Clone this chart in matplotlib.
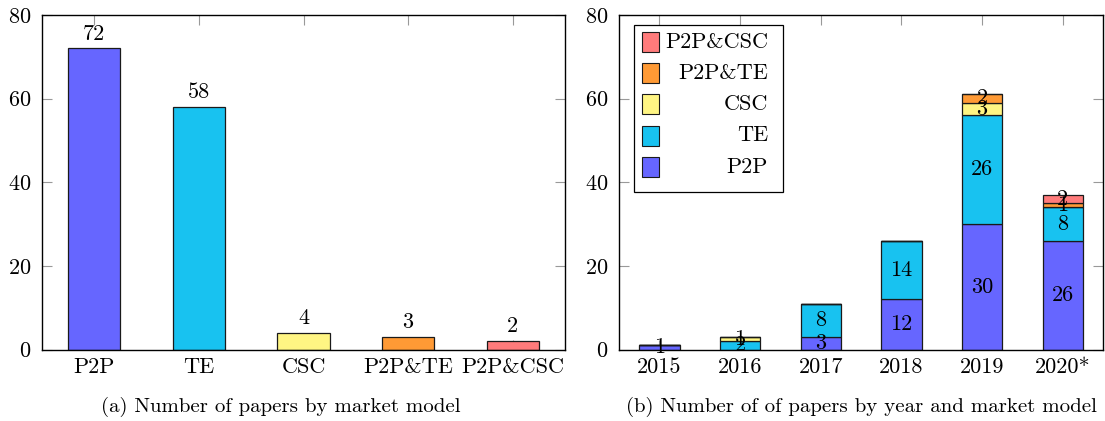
import numpy as np
from matplotlib import pyplot as plt
from matplotlib.patches import Rectangle

plt.rcParams['font.family'] = ['cmr10', 'DejaVu Serif']
plt.rcParams['axes.formatter.use_mathtext'] = True
plt.rcParams['mathtext.fontset'] = 'cm'

# data
models = ["P2P", "TE", "CSC", "P2P&TE", "P2P&CSC"]
model_counts = [72, 58, 4, 3, 2]
colors = ["#6666ff", "#18c2f0", "#fff583", "#ff9a35", "#ff7b7b"]

years = ["2015", "2016", "2017", "2018", "2019", "2020*"]
by_year = {
    "P2P":     [1, 0, 3, 12, 30, 26],
    "TE":      [0, 2, 8, 14, 26, 8],
    "CSC":     [0, 1, 0, 0, 3, 0],
    "P2P&TE":  [0, 0, 0, 0, 2, 1],
    "P2P&CSC": [0, 0, 0, 0, 0, 2],
}

fs = 16
edge = "#1a1a1a"

fig = plt.figure(figsize=(11.05, 4.21), dpi=100)
ax1 = fig.add_axes([42 / 1105, 71.5 / 421, 523 / 1105, 334.5 / 421])
ax2 = fig.add_axes([619 / 1105, 71.5 / 421, 484 / 1105, 334.5 / 421])


def style_axes(ax, n):
    ax.set_ylim(0, 80)
    ax.set_xlim(-0.5, n - 0.5)
    ax.set_yticks([0, 20, 40, 60, 80])
    ax.set_xticks(range(n))
    ax.set_axisbelow(True)
    ax.tick_params(direction='in', length=7, width=0.8, color='#999999',
                   top=True, right=True, labelsize=fs, pad=6)
    ax.tick_params(axis='y', pad=8)
    for s in ax.spines.values():
        s.set_linewidth(1.0)
        s.set_color('black')


# (a) by market model
x = np.arange(len(models))
bars = ax1.bar(x, model_counts, width=0.5, color=colors, edgecolor=edge, linewidth=0.9)
ax1.bar_label(bars, padding=3.5, fontsize=fs)
style_axes(ax1, len(models))
ax1.set_xticklabels(models)

# (b) by year, stacked
x2 = np.arange(len(years))
bottom = np.zeros(len(years))
for name, col in zip(models, colors):
    vals = np.array(by_year[name])
    b = ax2.bar(x2, vals, width=0.5, bottom=bottom, color=col, edgecolor=edge, linewidth=0.9)
    ax2.bar_label(b, labels=[str(v) if v > 0 else "" for v in vals],
                  label_type='center', fontsize=fs)
    bottom += vals
style_axes(ax2, len(years))
ax2.set_xticklabels(years)

# legend (right-aligned labels, reversed order)
def px(xp, yp):
    return ((xp - 619) / 484, (349.5 - yp) / 334.5)

x0, y0 = px(634, 192)
x1, y1 = px(783, 25)
ax2.add_patch(Rectangle((x0, y0), x1 - x0, y1 - y0, transform=ax2.transAxes,
                        facecolor='white', edgecolor='black', linewidth=0.9, zorder=5))
for i, (name, col) in enumerate(reversed(list(zip(models, colors)))):
    yc = 42 + i * 31.2
    px0, py0 = px(642, yc + 10)
    px1, py1 = px(659, yc - 10)
    ax2.add_patch(Rectangle((px0, py0), px1 - px0, py1 - py0, transform=ax2.transAxes,
                            facecolor=col, edgecolor=edge, linewidth=0.8, zorder=6))
    tx, ty = px(768, yc)
    ax2.text(tx, ty, name, transform=ax2.transAxes, ha='right', va='center',
             fontsize=fs, zorder=6)

fig.text(281 / 1105, 1 - 407 / 421, "(a) Number of papers by market model",
         ha='center', va='center', fontsize=15)
fig.text(861 / 1105, 1 - 407 / 421, "(b) Number of of papers by year and market model",
         ha='center', va='center', fontsize=15)

fig.savefig("out.png", dpi=100)
